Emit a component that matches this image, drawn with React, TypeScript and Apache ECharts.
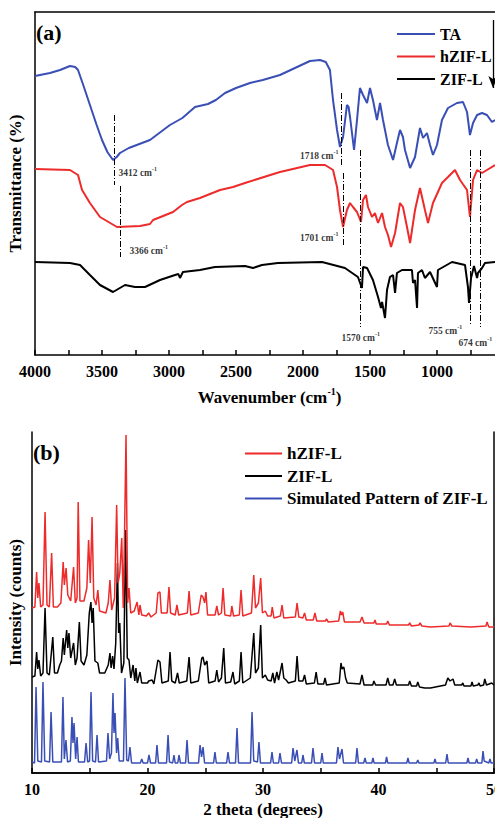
import React, { useEffect, useRef } from 'react';
import * as echarts from 'echarts';

const FONT = 'Liberation Serif, Times New Roman, serif';
const BLUE = '#3a4fb5';
const RED = '#ee2b2b';
const BLACK = '#000000';

const ftirTA: number[][] = [
  [4000, 279], [3888, 282], [3813, 285], [3739, 289], [3700, 288], [3679, 285], [3640, 270], [3590, 250],
  [3540, 230], [3500, 215], [3460, 203], [3418, 195], [3390, 198], [3366, 202], [3300, 207], [3142, 215],
  [2993, 230], [2900, 237], [2806, 248], [2709, 251], [2650, 255], [2582, 262], [2500, 267], [2396, 272],
  [2300, 275], [2172, 280], [2060, 287], [1948, 294], [1873, 295], [1830, 293], [1799, 285], [1776, 255],
  [1746, 225], [1724, 208], [1701, 218], [1672, 250], [1660, 248], [1649, 238], [1619, 205], [1597, 235],
  [1575, 267], [1552, 260], [1522, 252], [1500, 267], [1478, 255], [1448, 235], [1425, 252], [1403, 235],
  [1366, 210], [1328, 195], [1299, 212], [1276, 225], [1254, 218], [1239, 205], [1201, 187], [1164, 198],
  [1127, 227], [1104, 217], [1075, 222], [1052, 210], [1030, 200], [1000, 210], [963, 235], [918, 247],
  [851, 252], [806, 253], [776, 243], [754, 220], [731, 232], [701, 240], [664, 242], [627, 240],
  [590, 233], [567, 235],
];

const ftirHZIF: number[][] = [
  [4000, 186], [3739, 185], [3679, 180], [3649, 165], [3590, 152], [3515, 138], [3388, 128], [3216, 129],
  [3142, 131], [3119, 135], [2970, 143], [2903, 150], [2866, 153], [2769, 157], [2619, 165], [2522, 168],
  [2433, 172], [2172, 183], [1948, 190], [1836, 190], [1799, 187], [1776, 185], [1746, 168], [1724, 145],
  [1701, 128], [1672, 145], [1649, 152], [1627, 148], [1597, 143], [1567, 133], [1552, 155], [1530, 160],
  [1515, 148], [1485, 138], [1463, 142], [1440, 132], [1410, 142], [1388, 128], [1366, 120], [1343, 108],
  [1313, 122], [1276, 152], [1254, 148], [1224, 128], [1201, 112], [1164, 145], [1127, 167], [1090, 145],
  [1067, 132], [1030, 152], [993, 163], [963, 172], [918, 178], [866, 185], [828, 175], [776, 165],
  [754, 138], [731, 175], [701, 185], [664, 182], [627, 185], [567, 190],
];

const ftirZIF: number[][] = [
  [4000, 93], [3739, 92], [3664, 90], [3590, 80], [3515, 70], [3418, 63], [3328, 70], [3254, 68],
  [3179, 68], [3067, 75], [2955, 80], [2930, 81], [2918, 77], [2896, 83], [2769, 85], [2657, 88],
  [2433, 89], [2373, 87], [2306, 90], [2187, 92], [1858, 93], [1687, 87], [1590, 78], [1560, 67],
  [1552, 88], [1522, 87], [1478, 75], [1440, 58], [1418, 47], [1410, 53], [1388, 37], [1373, 65],
  [1351, 78], [1328, 80], [1313, 62], [1299, 82], [1261, 85], [1187, 85], [1179, 72], [1164, 75],
  [1149, 47], [1142, 82], [1112, 85], [1090, 77], [1052, 83], [1000, 68], [993, 85], [888, 93],
  [791, 90], [769, 68], [761, 52], [746, 77], [724, 89], [701, 77], [694, 82], [664, 87],
  [642, 92], [567, 93],
];

const ftirMarks = [
  { wn: 3412, from: 240, to: 170 },
  { wn: 3366, from: 169, to: 98 },
  { wn: 1718, from: 262, to: 190 },
  { wn: 1701, from: 182, to: 110 },
  { wn: 1570, from: 205, to: 28 },
  { wn: 755, from: 205, to: 30 },
  { wn: 674, from: 205, to: 28 },
];
const ftirLabels = [
  { name: '3412', at: [3388, 183], pos: 'right' },
  { name: '3366', at: [3306, 105], pos: 'right' },
  { name: '1718', at: [1724, 200], pos: 'left' },
  { name: '1701', at: [1724, 118], pos: 'left' },
  { name: '1570', at: [1724, 18], pos: 'right' },
  { name: '755', at: [1075, 25], pos: 'right' },
  { name: '674', at: [851, 13], pos: 'right' },
];

const xrdSim: number[][] = [
  [10, 11], [10.22, 10], [10.35, 86], [10.5, 12], [10.82, 11], [10.95, 91], [11.1, 12],
  [11.52, 11], [11.65, 61], [11.8, 11], [12.55, 11], [12.68, 76], [12.8, 14], [12.94, 33], [13.08, 11],
  [13.32, 12], [13.46, 56], [13.55, 30], [13.64, 50], [13.78, 14], [13.9, 36], [14.02, 11],
  [14.55, 11], [14.68, 30], [14.82, 11], [14.98, 12], [15.11, 81], [15.25, 12],
  [15.5, 11], [15.63, 38], [15.76, 11],
  [16.45, 12], [16.58, 40], [16.72, 14], [16.88, 20], [17.01, 80], [17.1, 40], [17.19, 60], [17.32, 20], [17.42, 35], [17.55, 12],
  [17.92, 12], [18.05, 95], [18.2, 13], [18.35, 12], [18.48, 26], [18.62, 10],
  [19.38, 10], [19.5, 14], [19.62, 10], [20.0, 10], [20.13, 18], [20.26, 10],
  [20.7, 10], [20.82, 28], [20.95, 10], [21.65, 10], [21.78, 38], [21.9, 11],
  [22.18, 10], [22.29, 18], [22.4, 10], [22.62, 10], [22.73, 18], [22.85, 10],
  [23.3, 10], [23.42, 33], [23.55, 10], [24.42, 10], [24.55, 28], [24.68, 16], [24.81, 26], [24.94, 10],
  [25.72, 10], [25.84, 21], [25.96, 10], [26.85, 10], [26.97, 21], [27.1, 10],
  [27.62, 10], [27.75, 45], [27.88, 10], [28.92, 10], [29.05, 61], [29.2, 12],
  [29.52, 11], [29.65, 31], [29.78, 10], [30.66, 10], [30.78, 21], [30.9, 10],
  [31.35, 10], [31.47, 20], [31.6, 10], [32.48, 10], [32.6, 25], [32.75, 12], [32.94, 23], [33.07, 10],
  [33.35, 10], [33.46, 18], [33.58, 10], [34.2, 10], [34.33, 25], [34.46, 10],
  [35.0, 10], [35.11, 20], [35.22, 10], [36.36, 10], [36.49, 26], [36.62, 14], [36.84, 24], [36.97, 10],
  [38.02, 10], [38.14, 25], [38.26, 10], [38.72, 10], [38.83, 15], [38.94, 10],
  [39.42, 10], [39.52, 15], [39.62, 10], [40.6, 10], [40.7, 16], [40.8, 10],
  [42.45, 10], [42.55, 15], [42.65, 10], [43.3, 10], [43.4, 13], [43.5, 10],
  [44.8, 10], [44.89, 14], [44.98, 10], [45.82, 10], [45.93, 19], [46.04, 10],
  [47.65, 10], [47.75, 15], [47.85, 10], [48.4, 10], [48.5, 14], [48.6, 10],
  [48.95, 10], [49.05, 22], [49.15, 12], [49.55, 10], [49.65, 14], [49.75, 10], [50, 10],
];

const xrdZIF: number[][] = [
  [10, 96], [10.25, 97], [10.4, 121], [10.5, 104], [10.6, 113], [10.75, 97],
  [10.95, 100], [11.13, 165], [11.3, 100], [11.5, 98], [11.8, 136], [11.95, 100],
  [12.2, 100], [12.4, 108], [12.55, 112], [12.7, 135], [12.8, 118], [13.0, 143], [13.1, 125], [13.2, 140], [13.35, 115], [13.6, 130], [13.75, 108],
  [13.9, 115], [14.1, 151], [14.25, 112],
  [14.5, 108], [14.75, 118], [14.96, 160], [15.1, 171], [15.2, 150], [15.3, 165], [15.45, 112], [15.7, 110], [15.85, 100],
  [16.3, 100], [16.6, 108], [16.75, 120], [16.85, 105], [16.98, 117], [17.1, 104],
  [17.25, 130], [17.4, 210], [17.5, 140], [17.6, 150], [17.75, 100],
  [17.95, 110], [18.1, 243], [18.25, 115], [18.4, 113], [18.55, 95],
  [18.75, 108], [18.9, 92], [19.0, 105], [19.12, 90], [19.35, 101], [19.5, 90],
  [20.0, 90], [20.1, 92], [20.4, 93], [20.55, 89],
  [20.9, 113], [21.08, 111], [21.25, 90], [21.8, 92], [21.95, 121], [22.1, 92],
  [22.4, 90], [22.6, 100], [22.75, 90], [23.4, 92], [23.6, 116], [23.75, 90],
  [24.4, 92], [24.7, 115], [24.8, 116], [24.95, 108], [25.15, 112], [25.3, 90],
  [25.85, 92], [26.0, 103], [26.15, 91], [26.4, 95], [26.6, 125], [26.75, 90],
  [27.2, 91], [27.4, 101], [27.55, 89], [27.95, 92], [28.1, 121], [28.25, 90],
  [28.9, 95], [29.2, 140], [29.35, 100], [29.6, 105], [29.8, 148], [29.95, 95],
  [30.2, 98], [30.4, 93], [30.7, 92], [30.85, 100], [31.0, 90],
  [31.2, 101], [31.35, 93], [31.65, 110], [31.8, 95], [32.0, 93], [32.2, 90],
  [32.8, 92], [32.95, 117], [33.1, 92], [33.45, 92], [33.6, 98], [33.75, 89],
  [34.45, 90], [34.6, 101], [34.75, 89], [35.25, 89], [35.37, 95], [35.5, 88],
  [36.6, 90], [36.75, 110], [36.85, 104], [37.0, 106], [37.15, 95], [37.3, 90],
  [38.4, 89], [38.57, 98], [38.75, 88], [39.5, 88], [39.6, 92], [39.75, 88],
  [40.65, 88], [40.8, 95], [40.95, 88], [41.25, 88], [41.4, 94], [41.55, 88],
  [42.6, 88], [42.7, 92], [42.85, 87], [43.3, 87], [43.4, 91], [43.55, 86],
  [44.0, 85], [44.5, 85], [45.8, 88], [46.0, 95], [46.2, 92], [46.45, 94], [46.6, 88],
  [47.2, 88], [47.3, 90], [47.4, 87], [48.0, 87], [48.1, 91], [48.2, 87],
  [48.6, 88], [48.7, 90], [48.8, 87], [49.1, 88], [49.2, 94], [49.35, 88], [49.8, 90], [50, 88],
];

const xrdHZIF: number[][] = [
  [10, 165], [10.25, 166], [10.4, 201], [10.5, 175], [10.6, 190], [10.75, 166],
  [10.95, 168], [11.13, 261], [11.3, 168], [11.5, 166], [11.7, 220], [11.85, 166],
  [12.2, 166], [12.5, 170], [12.7, 211], [12.8, 188], [12.95, 205], [13.1, 178], [13.35, 172], [13.6, 206], [13.75, 170],
  [13.9, 175], [14.0, 271], [14.15, 172],
  [14.5, 172], [14.75, 185], [14.9, 233], [15.05, 190], [15.2, 256], [15.35, 175], [15.55, 168], [15.7, 183], [15.85, 162],
  [16.4, 160], [16.6, 170], [16.75, 193], [16.9, 163],
  [17.15, 175], [17.33, 268], [17.45, 190], [17.6, 200], [17.77, 235], [17.9, 165],
  [18.0, 230], [18.14, 338], [18.28, 170], [18.4, 185], [18.55, 160],
  [18.85, 162], [19.1, 171], [19.25, 158], [19.35, 168], [19.5, 158],
  [19.9, 157], [20.1, 160], [20.3, 156],
  [20.75, 160], [20.9, 180], [21.08, 181], [21.2, 160], [21.7, 160], [21.86, 186], [22.0, 160],
  [22.4, 158], [22.55, 168], [22.7, 158], [23.45, 160], [23.6, 182], [23.75, 158],
  [24.4, 160], [24.65, 178], [24.8, 176], [24.95, 170], [25.06, 181], [25.2, 158],
  [25.85, 158], [26.0, 167], [26.15, 158], [26.4, 160], [26.54, 185], [26.7, 158],
  [27.2, 157], [27.3, 167], [27.45, 157], [27.95, 158], [28.1, 183], [28.25, 157],
  [29.0, 160], [29.2, 198], [29.35, 165], [29.6, 170], [29.8, 195], [29.95, 160],
  [30.2, 162], [30.4, 157], [30.7, 157], [30.8, 166], [30.95, 155],
  [31.5, 157], [31.65, 168], [31.8, 155], [32.8, 156], [32.95, 170], [33.1, 156],
  [33.45, 155], [33.6, 160], [33.75, 153], [34.35, 153], [34.5, 160], [34.65, 152],
  [35.4, 152], [35.5, 154], [35.65, 151], [36.55, 152], [36.7, 162], [36.8, 158], [36.9, 161], [37.05, 151],
  [38.4, 151], [38.57, 156], [38.75, 150], [39.6, 150], [39.7, 153], [39.8, 149],
  [40.7, 149], [40.8, 152], [40.95, 148], [42.6, 148], [42.7, 150], [42.85, 147],
  [43.5, 148], [43.6, 150], [43.75, 147], [44.5, 146],
  [46.1, 147], [46.2, 150], [46.35, 147], [48.0, 146],
  [49.3, 147], [49.4, 151], [49.55, 146], [50, 146],
];

const boldText = { fontFamily: FONT, fontWeight: 'bold' as const, color: '#000' };
const axisLineStyle = { lineStyle: { color: '#000', width: 1.5 } };

function buildOption(): any {
  const supRich = {
    n: { ...boldText, fontSize: 17, lineHeight: 20, verticalAlign: 'bottom' },
    s: { ...boldText, fontSize: 10, lineHeight: 20, verticalAlign: 'top' },
  };
  const lblRich = {
    n: { ...boldText, fontSize: 9.5, lineHeight: 12, verticalAlign: 'bottom' },
    s: { ...boldText, fontSize: 6, lineHeight: 12, verticalAlign: 'top' },
  };
  const borderAxis = (gridIndex: number, position: string, min: number, max: number, inverse = false) => ({
    gridIndex, type: 'value', position, min, max, inverse,
    axisLine: { show: true, ...axisLineStyle },
    axisTick: { show: false }, axisLabel: { show: false }, splitLine: { show: false },
  });

  return {
    animation: false,
    textStyle: { fontFamily: FONT },
    title: [
      { text: '(a)', left: 36, top: 21, padding: 0, textStyle: { ...boldText, fontSize: 22 } },
      { text: '(b)', left: 33, top: 441, padding: 0, textStyle: { ...boldText, fontSize: 22 } },
    ],
    legend: [
      {
        orient: 'vertical', left: 392, top: 21, itemWidth: 38, itemHeight: 2, itemGap: 6.5, icon: 'rect',
        textStyle: { ...boldText, fontSize: 16, lineHeight: 16 },
        data: ['TA', 'hZIF-L', 'ZIF-L'],
      },
      {
        orient: 'vertical', left: 240, top: 440, itemWidth: 37, itemHeight: 2, itemGap: 5.5, icon: 'rect',
        textStyle: { ...boldText, fontSize: 17, lineHeight: 17 },
        data: ['hZIF-L', 'ZIF-L', 'Simulated Pattern of ZIF-L'],
      },
    ],
    grid: [
      { left: 35, top: 12, width: 469, height: 343, outerBoundsMode: 'none', containLabel: false },
      { left: 32, top: 432, width: 462, height: 341, outerBoundsMode: 'none', containLabel: false },
    ],
    xAxis: [
      {
        gridIndex: 0, type: 'value', min: 500, max: 4000, interval: 250, inverse: true,
        axisLine: { show: true, ...axisLineStyle },
        axisTick: { show: true, inside: true, length: 5, lineStyle: { color: '#000', width: 1.5 } },
        axisLabel: {
          ...boldText, fontSize: 16, margin: 8,
          formatter: (v: number) => (v % 500 === 0 && v > 500 ? String(v) : ''),
        },
        splitLine: { show: false },
        name: '{n|Wavenumber (cm}{s|-1}{n|)}', nameLocation: 'middle', nameGap: 31,
        nameTextStyle: { rich: supRich },
      },
      borderAxis(0, 'top', 500, 4000, true),
      {
        gridIndex: 1, type: 'value', min: 10, max: 50, interval: 5,
        axisLine: { show: true, ...axisLineStyle },
        axisTick: { show: true, inside: true, length: 5, lineStyle: { color: '#000', width: 1.5 } },
        axisLabel: {
          ...boldText, fontSize: 16, margin: 8,
          formatter: (v: number) => (v % 10 === 0 ? String(v) : ''),
        },
        splitLine: { show: false },
        name: '2 theta (degrees)', nameLocation: 'middle', nameGap: 28,
        nameTextStyle: { ...boldText, fontSize: 17 },
      },
      borderAxis(1, 'top', 10, 50),
    ],
    yAxis: [
      {
        gridIndex: 0, type: 'value', min: 0, max: 343,
        axisLine: { show: true, ...axisLineStyle }, axisTick: { show: false }, axisLabel: { show: false },
        splitLine: { show: false },
        name: 'Transmittance (%)', nameLocation: 'middle', nameGap: 11,
        nameTextStyle: { ...boldText, fontSize: 17 },
      },
      {
        gridIndex: 1, type: 'value', min: 0, max: 341,
        axisLine: { show: true, ...axisLineStyle }, axisTick: { show: false }, axisLabel: { show: false },
        splitLine: { show: false },
        name: 'Intensity (counts)', nameLocation: 'middle', nameGap: 8,
        nameTextStyle: { ...boldText, fontSize: 17 },
      },
      borderAxis(1, 'right', 0, 341),
    ],
    series: [
      {
        name: 'TA', type: 'line', xAxisIndex: 0, yAxisIndex: 0, data: ftirTA,
        symbol: 'none', color: BLUE, lineStyle: { color: BLUE, width: 2 },
      },
      {
        name: 'hZIF-L', type: 'line', xAxisIndex: 0, yAxisIndex: 0, data: ftirHZIF,
        symbol: 'none', color: RED, lineStyle: { color: RED, width: 2 },
      },
      {
        name: 'ZIF-L', type: 'line', xAxisIndex: 0, yAxisIndex: 0, data: ftirZIF,
        symbol: 'none', color: BLACK, lineStyle: { color: BLACK, width: 2 },
      },
      {
        name: 'annotations', type: 'scatter', xAxisIndex: 0, yAxisIndex: 0,
        symbolSize: 1, itemStyle: { color: 'rgba(0,0,0,0)' }, silent: true,
        data: ftirLabels.map((l) => ({ name: l.name, value: l.at, label: { position: l.pos } })),
        label: {
          show: true, distance: 1,
          formatter: (p: any) => `{n|${p.name} cm}{s|-1}`,
          rich: lblRich,
        },
        markLine: {
          silent: true, symbol: ['none', 'none'], animation: false,
          label: { show: false },
          lineStyle: { color: '#000', width: 1, type: [6, 2, 1, 2] },
          data: [
            ...ftirMarks.map((m) => [{ coord: [m.wn, m.from] }, { coord: [m.wn, m.to] }]),
            [
              { coord: [582, 335], symbol: 'none' },
              { coord: [582, 267], symbol: 'arrow', symbolSize: [7, 12], lineStyle: { type: 'solid', width: 1.3 } },
            ],
          ],
        },
      },
      {
        name: 'Simulated Pattern of ZIF-L', type: 'line', xAxisIndex: 2, yAxisIndex: 1, data: xrdSim,
        symbol: 'none', color: BLUE, lineStyle: { color: BLUE, width: 1.5 },
      },
      {
        name: 'ZIF-L', type: 'line', xAxisIndex: 2, yAxisIndex: 1, data: xrdZIF,
        symbol: 'none', color: BLACK, lineStyle: { color: BLACK, width: 1.5 },
      },
      {
        name: 'hZIF-L', type: 'line', xAxisIndex: 2, yAxisIndex: 1, data: xrdHZIF,
        symbol: 'none', color: RED, lineStyle: { color: RED, width: 1.5 },
      },
    ],
  };
}

export default function App() {
  const ref = useRef<HTMLDivElement>(null);
  useEffect(() => {
    document.body.style.margin = '0';
    document.body.style.overflow = 'hidden';
    document.documentElement.style.overflow = 'hidden';
    const chart = echarts.init(ref.current!, null, { renderer: 'svg' });
    chart.setOption(buildOption());
    return () => chart.dispose();
  }, []);
  return (
    <div
      ref={ref}
      style={{ position: 'fixed', left: 0, top: 0, width: 495, height: 818, overflow: 'hidden', background: '#fff' }}
    />
  );
}
